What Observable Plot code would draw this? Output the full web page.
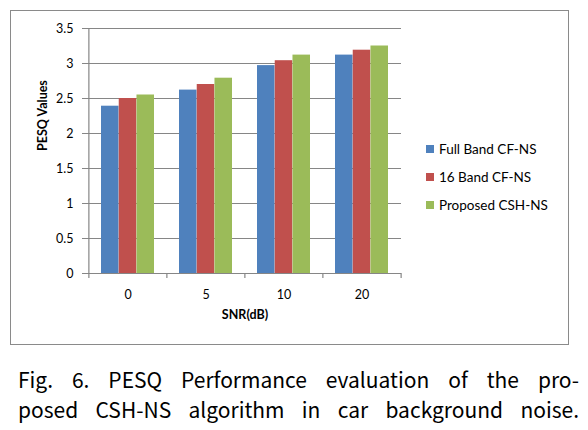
<!DOCTYPE html>
<html><head><meta charset="utf-8">
<script src="https://cdn.jsdelivr.net/npm/d3@7"></script>
<script src="https://cdn.jsdelivr.net/npm/@observablehq/plot@0.6"></script>
<style>
body{margin:0;background:#fff;}
#wrap{position:relative;width:588px;height:430px;overflow:hidden;background:#fff;}
#box{position:absolute;left:10px;top:10px;width:559px;height:335px;border:1.5px solid #8a8a8a;box-sizing:border-box;}
#chart{position:absolute;left:0;top:0;}
#legend{position:absolute;left:426px;top:141px;font-family:Lato,sans-serif;font-size:13.5px;color:#000;}
#legend .sw{width:8px;height:8px;margin-right:5px;}
#legend .item{display:flex;align-items:center;height:16px;margin-bottom:12px;}
#caption{position:absolute;left:18px;top:364px;width:561px;font-family:"Noto Sans CJK KR","Liberation Sans",sans-serif;font-size:21px;color:#000;line-height:30px;}
#caption div{text-align:justify;text-align-last:justify;white-space:nowrap;}
</style>
</head><body>
<div id="wrap">
  <div id="box"></div>
  <div id="chart"></div>
  <div id="legend"></div>
  <div id="caption">
    <div>Fig. 6. PESQ Performance evaluation of the pro-</div>
    <div>posed CSH-NS algorithm in car background noise.</div>
  </div>
</div>
<script>
const snrLabels = ["0", "5", "10", "20"];
const seriesNames = ["Full Band CF-NS", "16 Band CF-NS", "Proposed CSH-NS"];
const fullBand = [2.39, 2.62, 2.97, 3.12];
const band16 = [2.50, 2.70, 3.04, 3.19];
const proposed = [2.55, 2.79, 3.12, 3.25];
const yTicks = [0, 0.5, 1, 1.5, 2, 2.5, 3, 3.5];
const colors = ["#4F81BD", "#C0504D", "#9BBB59"];

const seriesValues = [fullBand, band16, proposed];
const data = [];
seriesNames.forEach((s, i) => snrLabels.forEach((c, j) => data.push({snr: c, series: s, value: seriesValues[i][j]})));

const plotW = 588, mL = 88, mR = 187;
const step = (plotW - mL - mR) / snrLabels.length;
const pInner = 0.32, pOuter = 0.16;
const bw = step * (1 - pInner);
const third = bw / 3;
const gridColor = "#868686";

const barMarks = seriesNames.map((s, i) =>
  Plot.barY(data.filter(d => d.series === s), {
    x: "snr", y: "value", fill: colors[i],
    insetLeft: i * third, insetRight: (2 - i) * third
  })
);

const chart = Plot.plot({
  width: plotW, height: 345,
  marginLeft: mL, marginRight: mR, marginTop: 28, marginBottom: 72,
  style: {fontFamily: "Lato, sans-serif", fontSize: "12.5px", background: "transparent", color: "#000"},
  x: {type: "band", domain: snrLabels, paddingInner: pInner, paddingOuter: pOuter},
  y: {domain: [0, 3.5]},
  marks: [
    Plot.ruleY(yTicks, {y: d => d, stroke: gridColor, strokeWidth: 1.2, insetLeft: -6}),
    ...barMarks,
    Plot.ruleX(snrLabels.slice(0, 1), {x: d => d, dx: -step / 2, y1: 0, y2: 3.5, stroke: gridColor, strokeWidth: 1.2}),
    Plot.ruleX(snrLabels, {x: d => d, dx: -step / 2, y1: 0, y2: 0, insetBottom: -5, stroke: gridColor, strokeWidth: 1.2}),
    Plot.ruleX(snrLabels.slice(-1), {x: d => d, dx: step / 2, y1: 0, y2: 0, insetBottom: -5, stroke: gridColor, strokeWidth: 1.2}),
    Plot.axisY({ticks: yTicks, tickSize: 0, tickPadding: 15, tickFormat: d => String(d), label: null}),
    Plot.axisX({tickSize: 0, tickPadding: 17, label: null}),
    Plot.text(["SNR(dB)"], {frameAnchor: "bottom", dy: 45, fontWeight: "bold", fontSize: 12.5}),
    Plot.text(["PESQ Values"], {frameAnchor: "left", dx: -46, rotate: -90, fontWeight: "bold", fontSize: 12.5})
  ]
});
document.getElementById("chart").appendChild(chart);

const legend = document.getElementById("legend");
seriesNames.forEach((s, i) => {
  const item = document.createElement("div");
  item.className = "item";
  const sw = document.createElement("div");
  sw.className = "sw";
  sw.style.background = colors[i];
  const t = document.createElement("span");
  t.textContent = s;
  item.appendChild(sw); item.appendChild(t);
  legend.appendChild(item);
});
</script>
</body></html>
